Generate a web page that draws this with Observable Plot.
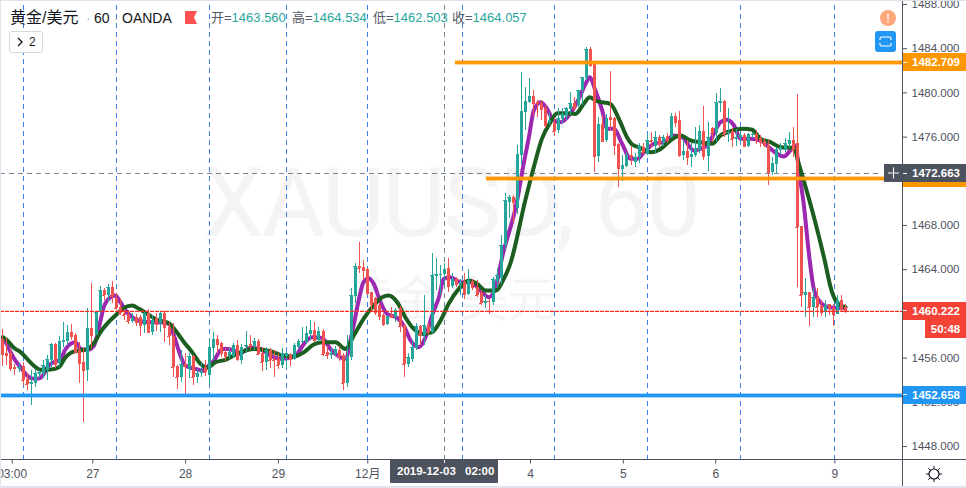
<!DOCTYPE html>
<html><head><meta charset="utf-8">
<script src="https://cdn.jsdelivr.net/npm/d3@7"></script>
<script src="https://cdn.jsdelivr.net/npm/@observablehq/plot@0.6"></script>
<style>
html,body{margin:0;padding:0;background:#fff;}
#wrap{position:relative;width:966px;height:488px;overflow:hidden;font-family:"Liberation Sans","Noto Sans CJK SC",sans-serif;}
#wrap > svg{position:absolute;left:0;top:0;background:transparent;}
#wrap > svg g[aria-label="rule"]{shape-rendering:crispEdges;}
.abs{position:absolute;white-space:nowrap;}
.tag{position:absolute;left:903px;width:63px;height:18px;line-height:18px;color:#fff;font-size:11.5px;font-weight:700;text-align:center;text-indent:3px;}
.tag:before{content:"";position:absolute;left:0;top:8.5px;width:4px;height:1px;background:#fff;}
</style></head><body><div id="wrap"></div>
<script>
const opens=[1457.68,1456.39,1456.39,1455.15,1454.97,1455.24,1454.03,1453.61,1453.73,1454.52,
1454.52,1454.88,1455.78,1457.23,1455.48,1457.41,1457.50,1458.32,1458.05,1456.69,
1455.57,1454.88,1458.68,1458.05,1460.16,1462.12,1461.67,1462.42,1461.37,1460.55,
1460.07,1459.86,1459.34,1459.65,1459.65,1458.95,1460.01,1458.32,1459.56,1459.10,
1460.07,1458.80,1457.99,1455.24,1454.28,1455.42,1454.94,1456.15,1454.28,1454.58,
1455.12,1454.43,1456.84,1457.65,1457.29,1456.51,1456.15,1456.15,1457.14,1455.78,
1456.93,1457.23,1457.05,1457.47,1456.44,1455.63,1456.68,1455.84,1455.84,1455.33,
1456.14,1456.23,1455.84,1456.99,1457.41,1457.41,1458.13,1458.49,1457.59,1458.43,
1456.53,1456.23,1456.32,1456.68,1456.23,1453.67,1456.08,1461.57,1464.29,1464.17,
1463.99,1461.93,1461.36,1460.76,1459.85,1459.04,1459.85,1459.64,1460.46,1458.95,
1455.42,1455.84,1456.83,1458.86,1458.04,1458.95,1458.34,1463.38,1463.44,1463.56,
1464.08,1462.48,1463.08,1462.57,1462.87,1461.75,1462.96,1462.42,1461.81,1460.94,
1461.15,1461.06,1462.96,1463.17,1466.19,1470.11,1470.57,1469.51,1474.33,1478.25,
1479.16,1479.67,1479.16,1479.01,1478.56,1477.29,1477.26,1476.59,1477.59,1477.86,
1478.49,1479.07,1478.86,1480.21,1481.27,1483.93,1482.57,1474.24,1477.14,1475.69,
1477.74,1477.65,1475.30,1473.03,1473.34,1474.33,1473.70,1474.12,1475.03,1474.42,
1475.69,1475.15,1475.93,1475.39,1476.05,1475.93,1477.86,1477.50,1474.33,1474.69,
1474.19,1474.34,1474.79,1476.51,1474.25,1476.75,1476.30,1479.07,1479.22,1476.30,
1476.51,1475.81,1475.85,1476.15,1475.15,1476.12,1476.24,1475.85,1475.63,1475.24,
1472.83,1473.52,1474.79,1474.79,1475.33,1475.69,1475.45,1467.94,1461.66,1461.96,
1460.61,1461.51,1460.67,1460.15,1460.85,1460.45,1459.94,1461.21,1460.55];
const closes=[1456.33,1456.24,1455.03,1455.03,1455.18,1453.97,1453.61,1453.79,1454.64,1454.73,
1455.33,1455.90,1457.23,1455.42,1457.50,1457.59,1458.32,1457.96,1456.54,1455.54,
1454.88,1458.68,1458.05,1460.16,1462.12,1461.67,1462.42,1461.58,1460.52,1460.01,
1459.86,1459.34,1459.59,1459.19,1458.95,1460.01,1458.35,1459.40,1459.04,1460.07,
1458.74,1457.96,1455.18,1454.28,1455.42,1455.24,1456.15,1454.28,1454.64,1454.82,
1454.73,1456.93,1457.65,1457.23,1456.45,1456.15,1456.51,1457.14,1455.84,1456.93,
1457.14,1457.05,1457.53,1456.32,1455.60,1456.68,1455.78,1455.78,1455.33,1456.38,
1456.38,1455.84,1457.14,1457.53,1457.50,1458.25,1458.49,1457.59,1458.43,1456.32,
1456.23,1456.44,1456.74,1456.14,1453.67,1456.08,1461.66,1464.29,1464.08,1463.92,
1461.81,1460.85,1460.15,1459.76,1459.04,1459.76,1459.64,1460.30,1458.86,1455.42,
1456.02,1456.99,1458.86,1458.04,1458.95,1458.34,1463.47,1463.56,1463.56,1464.057,
1462.48,1463.08,1462.66,1462.87,1461.75,1463.02,1462.36,1461.66,1460.91,1461.12,
1461.09,1463.08,1463.47,1466.19,1470.26,1470.57,1470.11,1474.42,1478.31,1479.22,
1479.67,1479.01,1479.01,1478.49,1477.05,1477.50,1476.53,1477.65,1478.04,1478.56,
1479.01,1478.56,1480.21,1481.36,1483.93,1482.48,1474.24,1477.14,1475.63,1477.65,
1477.56,1475.24,1473.12,1473.43,1474.33,1474.12,1474.18,1475.15,1474.63,1475.69,
1475.63,1475.93,1475.33,1475.99,1475.69,1477.86,1477.35,1474.33,1474.69,1474.18,
1474.43,1474.94,1476.51,1474.25,1475.94,1476.30,1479.16,1479.22,1476.24,1476.45,
1475.78,1475.94,1476.15,1475.15,1476.21,1476.21,1475.78,1475.54,1475.24,1472.83,
1473.58,1474.88,1475.03,1475.45,1475.69,1474.79,1467.85,1461.66,1461.96,1460.61,
1461.45,1460.61,1460.15,1460.76,1460.45,1459.94,1461.21,1460.39,1460.222];
const highs=[1458.56,1457.75,1456.84,1455.42,1455.48,1455.63,1454.58,1454.88,1454.88,1454.88,
1455.78,1456.24,1457.35,1457.35,1457.96,1459.25,1458.95,1459.04,1458.20,1457.44,
1456.84,1460.46,1462.72,1460.25,1462.48,1462.27,1462.66,1462.93,1461.82,1461.37,
1460.37,1460.31,1460.01,1459.95,1459.86,1460.16,1460.37,1459.86,1460.01,1460.25,
1460.25,1459.25,1459.10,1455.33,1456.69,1456.39,1456.45,1456.24,1454.94,1455.48,
1455.78,1457.65,1458.35,1458.05,1457.44,1456.84,1456.84,1457.29,1457.59,1457.23,
1458.43,1458.04,1457.74,1457.65,1456.99,1456.93,1456.83,1456.68,1456.38,1456.83,
1456.53,1456.38,1457.29,1457.65,1458.80,1458.86,1459.40,1459.25,1458.80,1458.55,
1457.05,1456.83,1457.05,1457.05,1456.38,1458.04,1462.27,1464.59,1466.49,1464.83,
1464.08,1461.96,1461.51,1460.91,1460.00,1459.85,1460.61,1460.46,1460.67,1459.04,
1456.38,1457.59,1459.10,1458.95,1461.66,1459.10,1465.43,1464.98,1464.38,1464.534,
1464.98,1463.62,1463.32,1463.08,1463.62,1463.99,1463.08,1463.02,1462.11,1461.66,
1461.27,1463.32,1464.08,1467.10,1470.87,1470.72,1470.72,1475.24,1481.81,1480.52,
1481.27,1480.21,1479.31,1479.31,1478.86,1478.25,1477.65,1478.56,1478.56,1478.71,
1480.06,1479.61,1480.21,1481.42,1484.14,1484.14,1482.78,1477.80,1477.95,1478.04,
1481.96,1477.74,1475.39,1474.33,1474.63,1475.15,1474.48,1475.39,1475.39,1476.23,
1476.44,1476.53,1476.14,1476.14,1476.29,1478.10,1478.10,1478.34,1475.69,1475.69,
1475.54,1476.90,1477.05,1478.77,1477.35,1476.90,1479.92,1480.37,1479.31,1478.62,
1476.75,1476.66,1476.45,1476.30,1476.30,1476.45,1476.60,1476.15,1475.85,1475.69,
1474.13,1475.09,1475.39,1475.85,1476.45,1476.90,1479.86,1467.94,1463.17,1461.96,
1462.26,1462.26,1461.21,1461.21,1460.85,1460.85,1461.66,1461.66,1460.85];
const lows=[1455.24,1455.33,1454.82,1454.43,1454.73,1453.52,1453.07,1451.71,1453.31,1454.12,
1454.12,1453.97,1455.18,1455.03,1455.18,1456.93,1457.14,1457.59,1456.39,1453.73,
1450.20,1453.88,1456.84,1458.05,1460.01,1461.21,1461.06,1460.97,1460.31,1459.86,
1459.40,1459.04,1459.10,1458.86,1457.96,1458.20,1458.20,1458.05,1458.41,1458.35,
1457.44,1457.14,1454.28,1453.16,1453.82,1452.62,1454.12,1453.52,1453.67,1454.28,
1454.34,1453.67,1455.78,1456.39,1456.09,1455.72,1455.84,1455.93,1455.72,1455.42,
1456.44,1456.68,1456.68,1456.23,1454.81,1454.87,1455.02,1454.27,1454.93,1455.02,
1455.02,1455.24,1455.78,1456.83,1457.29,1457.23,1457.59,1457.44,1457.44,1456.14,
1455.84,1455.84,1456.14,1455.72,1453.06,1453.37,1455.78,1460.91,1463.62,1463.02,
1461.66,1460.15,1459.85,1459.40,1458.86,1458.95,1459.55,1459.25,1458.34,1454.21,
1455.12,1455.63,1456.68,1457.14,1457.14,1458.04,1458.19,1462.11,1461.66,1462.503,
1461.96,1462.27,1462.42,1461.66,1461.27,1461.66,1462.11,1461.51,1460.76,1460.46,
1459.94,1460.76,1462.27,1462.70,1465.74,1468.61,1468.30,1469.00,1473.43,1476.59,
1479.01,1477.95,1477.80,1477.50,1476.74,1477.05,1476.05,1476.29,1477.20,1477.50,
1477.95,1478.40,1478.71,1478.86,1481.12,1482.33,1472.82,1473.73,1475.54,1475.54,
1476.59,1474.33,1471.47,1472.01,1473.28,1473.43,1473.22,1473.58,1474.33,1474.33,
1475.09,1474.48,1475.09,1475.15,1475.39,1475.84,1476.90,1474.12,1473.88,1473.43,
1473.28,1474.19,1474.55,1473.88,1472.92,1475.54,1475.54,1478.26,1476.00,1475.54,
1475.09,1475.15,1475.54,1475.03,1475.09,1475.85,1475.33,1475.09,1475.03,1471.62,
1472.53,1472.68,1474.34,1474.64,1474.94,1474.19,1462.42,1460.61,1459.70,1458.89,
1459.70,1459.70,1459.76,1459.70,1459.85,1458.86,1459.94,1460.15,1460.06];

const purpleBar=[0,0.7,1.9,3.1,4.4,5.6,6.8,8.1,9.3,10.1,11.3,12.6,14.2,15.5,17.9,19.2,21,22.5,24.1,24.9,26.6,27.8,29,30.3,31.9,34,36.4,38.9,41,42.2,43.4,44.7,45.9,47.5,49.2,50.4,52.1,53.7,54.9,57,58.2,61.1,63.6,66,68.5,71,72.6,74.3,76.3,78.8,80.8,83.3,84.5,86.2,87.8,89,90.3,91.5,93.2,94.8,97.3,98.9,100.6,102.6,104.3,105.9,107.6,108.8,110.4,112.9,115.4,117.9,119.9,121.6,123.2,126.9,128.5,129.8,131,132.7,134.3,135.9,137.6,140,142.1,143.8,144.8,146.2,147.9,149.1,150.7,152.8,154.9,156.5,158.6,160.6,163.1,165.6,167.6,170.5,172.1,174.2,175.4,177.1,178.7,180.4,182,184.5,187.3,189,191,192.7,194.3,195.6,196.4,197.6,198.9,200.1,201.7,203.8,205.8,207.9];
const purpleVal=[1457.74,1457.44,1456.54,1455.78,1455.18,1454.58,1454.21,1454.12,1454.21,1454.58,1455.33,1455.63,1455.84,1456.84,1457.44,1456.84,1456.75,1457.14,1459.40,1460.61,1461.52,1461.67,1461.06,1460.31,1459.71,1459.34,1459.25,1459.25,1459.10,1458.05,1456.69,1455.48,1455.18,1455.03,1454.88,1455.18,1455.78,1456.69,1456.84,1456.69,1456.39,1456.93,1456.83,1456.23,1455.93,1456.02,1456.38,1457.29,1457.89,1457.83,1456.83,1456.08,1455.93,1458.34,1461.21,1462.87,1463.23,1462.72,1461.06,1460.00,1459.64,1458.95,1457.59,1456.99,1457.89,1459.85,1461.51,1463.17,1463.32,1462.87,1462.87,1462.11,1461.51,1462.42,1465.13,1470.26,1473.58,1475.99,1478.40,1479.16,1478.55,1477.50,1477.35,1478.10,1479.46,1480.82,1481.42,1480.21,1478.40,1476.75,1476.75,1475.39,1474.03,1474.03,1474.78,1475.39,1475.54,1476.14,1475.99,1474.79,1474.94,1475.39,1476.30,1477.35,1477.56,1477.05,1475.85,1475.85,1475.63,1475.09,1474.49,1474.25,1474.79,1475.24,1473.00,1469.96,1465.43,1462.26,1461.06,1460.60,1460.54,1460.54];
const greenBar=[0,1.1,2.7,4.4,6,7.6,9.3,11.8,13.8,15.5,17.1,19.2,21,22.9,24.1,25.7,27.8,29.9,31.9,33.6,35.6,38.1,41,42.6,44.7,46.7,48.8,50.4,52.5,54.9,57,58.2,61.9,66,69.3,71.8,74.3,76.7,78.8,82.1,84.5,86.6,89,91.5,93.6,95.2,97.3,99.3,101.4,103.9,105.9,108,110,112.5,115,117,119.1,121.6,123.6,125.2,128.9,131,133,135.1,136.8,138.8,141.3,143.3,144.8,146.6,149.9,152,154,155.3,157.3,159.8,162.3,164.7,167.2,169.7,172.1,175,177.1,179.5,182.8,184.9,186.9,189.4,191.9,195.2,196.4,199.7,202.6,204.6,205.8,207.9];
const greenVal=[1457.90,1457.59,1456.93,1456.54,1455.93,1455.33,1454.94,1454.97,1455.18,1456.09,1456.54,1456.69,1456.84,1457.59,1458.35,1459.10,1459.86,1460.55,1460.76,1460.46,1460.01,1459.46,1459.16,1458.50,1457.44,1456.54,1455.48,1455.12,1455.63,1455.84,1456.24,1456.45,1456.83,1456.62,1456.23,1456.14,1456.53,1457.23,1457.44,1457.44,1456.83,1458.04,1459.55,1460.76,1461.51,1461.66,1461.06,1459.70,1458.64,1458.19,1458.34,1459.40,1460.91,1462.27,1463.02,1462.72,1462.11,1462.11,1463.17,1464.53,1470.26,1473.27,1475.84,1477.35,1478.16,1478.16,1478.10,1479.01,1479.61,1479.25,1479.01,1477.65,1475.99,1475.33,1475.03,1474.63,1474.93,1475.69,1476.14,1475.69,1475.54,1475.39,1476.15,1476.54,1476.75,1476.66,1475.85,1475.54,1475.09,1475.03,1473.58,1469.35,1465.13,1461.96,1461.06,1460.61];

const priceTicks=[1448,1452,1456,1460,1464,1468,1472,1476,1480,1484,1488];
const timeTickBars=[2.31,22.2,45.1,68.0,90.05,130.2,153.1,175.9,205.3];
const timeTickLabels=["03:00","27","28","29","12月","4","5","6","9"];
const sessionBars=[5.17,28.1,51.07,70.06,90.05,113.3,136.2,159.1,182.1,205.3];
const crossBar=109.05, crossPrice=1472.663, lastPrice=1460.222;
const orangeHigh=1482.709, orangeLow=1472.23, blueLevel=1452.658;
const orangeHighFrom=111.6, orangeLowFrom=119.3;

const xDomain=[-0.575,221.98], yDomain=[1446.778,1488.362];
const barHalf=0.37;
const candles=opens.map((o,i)=>({i,o,h:highs[i],l:lows[i],c:closes[i]}));
const up=candles.filter(d=>d.c>=d.o), down=candles.filter(d=>d.c<d.o);
const UP="#26a69a", DOWN="#ef5350";
const purple=purpleBar.map((x,i)=>({x,y:purpleVal[i]}));
const green=greenBar.map((x,i)=>({x,y:greenVal[i]}));
const tickName=new Map(timeTickBars.map((b,i)=>[b,timeTickLabels[i]]));
const lastLine=xDomain.map(x=>({x,y:lastPrice}));

function candleMarks(data,color){return [
  Plot.ruleX(data,{x:"i",y1:"l",y2:"h",stroke:color,strokeWidth:1}),
  Plot.ruleX(data,{x:"i",y1:"o",y2:"c",stroke:color,strokeWidth:3}),
  Plot.ruleY(data,{y:"c",x1:d=>d.i-barHalf,x2:d=>d.i+barHalf,stroke:color,strokeWidth:1})
];}
function level(v,from,color){return [
  Plot.ruleY([v],{x1:from,x2:xDomain[1],stroke:color,strokeWidth:5,strokeOpacity:.4}),
  Plot.ruleY([v],{x1:from,x2:xDomain[1],stroke:color,strokeWidth:3})
];}

const chart=Plot.plot({
  width:966,height:488,marginLeft:0,marginRight:64,marginTop:0,marginBottom:28.5,
  x:{domain:xDomain},y:{domain:yDomain},
  style:{background:"transparent",overflow:"visible"},
  marks:[
    Plot.ruleX(sessionBars,{y1:yDomain[0],y2:yDomain[1],stroke:"#3f7fe8",strokeWidth:1,strokeDasharray:"5,4"}),
    Plot.ruleX([crossBar],{y1:yDomain[0],y2:yDomain[1],stroke:"#758696",strokeWidth:1,strokeDasharray:"5,4"}),
    Plot.ruleY([crossPrice],{x1:xDomain[0],x2:217,stroke:"#758696",strokeWidth:1,strokeDasharray:"5,4"}),
    Plot.line(purple,{x:"x",y:"y",stroke:"#9c27b0",strokeWidth:4,curve:"monotone-x"}),
    Plot.line(green,{x:"x",y:"y",stroke:"#1b5e20",strokeWidth:4,curve:"monotone-x"}),
    ...candleMarks(up,UP),...candleMarks(down,DOWN),
    Plot.line(lastLine,{x:"x",y:"y",stroke:"#ff2a1f",strokeWidth:1.2,strokeDasharray:"3,2"}),
    ...level(orangeHigh,orangeHighFrom,"#ff9800"),
    ...level(orangeLow,orangeLowFrom,"#ff9800"),
    ...level(blueLevel,xDomain[0],"#2196f3"),
    Plot.axisY(priceTicks,{anchor:"right",label:null,tickSize:4,tickPadding:5,stroke:"#50535e",fill:"#50535e",fontSize:11.5,fontFamily:"Liberation Sans",tickFormat:d=>d.toFixed(3)}),
    Plot.axisX(timeTickBars,{anchor:"bottom",label:null,tickSize:4,tickPadding:5,stroke:"#50535e",fill:"#50535e",fontSize:12,fontFamily:"Liberation Sans, Noto Sans CJK SC",tickFormat:d=>tickName.get(d)})
  ]
});
const wrap=document.getElementById("wrap");
const yS=v=>chart.scale("y").apply(v);
function add(html){wrap.insertAdjacentHTML("beforeend",html);}

// watermark lies behind the transparent svg
add(`<div class="abs" style="left:0;width:902px;text-align:center;top:148px;font:97px/110px 'Roboto','Liberation Sans';color:#f4f4f5;letter-spacing:-2.2px">XAUUSD, 60</div>`);
add(`<div class="abs" style="left:345px;top:262px;font:48px/66px 'Noto Sans CJK SC';color:#f5f5f6">黄金/美元</div>`);
wrap.appendChild(chart);

// axis lines
add(`<div class="abs" style="left:0;top:459px;width:966px;height:1px;background:#50535e"></div>`);
add(`<div class="abs" style="left:902px;top:0;width:1px;height:486px;background:#50535e"></div>`);

// price tags
function tag(v,bg,txt){add(`<div class="tag" style="top:${yS(v)-9}px;background:${bg}">${txt}</div>`);}
tag(orangeHigh,"#ff9800","1482.709");
tag(orangeLow,"#ff9800","");
tag(blueLevel,"#2196f3","1452.658");
tag(lastPrice,"#f44336","1460.222");
tag(crossPrice,"#4c525e","1472.663");
add(`<div class="abs" style="left:925px;top:320px;width:41px;height:18px;line-height:18px;background:#f44336;color:#fff;font-size:11.5px;font-weight:700;text-align:center">50:48</div>`);
add(`<div class="abs" style="left:884px;top:${yS(crossPrice)-9}px;width:19px;height:18px;background:#4c525e"><svg width="19" height="18"><path d="M4 9h11M9.500 3.500v11" stroke="#fff" stroke-width="1"/></svg></div>`);
// crosshair date tag
add(`<div class="abs" style="left:390px;top:460px;width:108px;height:23px;line-height:22px;background:#4c525e;color:#fff;font-size:11.5px;font-weight:700;border-radius:0 0 1px 1px"><span class="abs" style="left:7px">2019-12-03</span><span class="abs" style="left:75px">02:00</span><span class="abs" style="left:54px;top:0;width:1px;height:3px;background:#fff"></span></div>`);

// legend
const ink="#131722",gray="#555a66",val="#26a69a";
add(`<div class="abs" style="left:10px;top:8px;font-size:16px;line-height:20px;color:${ink}">黄金/美元</div>`);
add(`<div class="abs" style="left:86px;top:8px;font-size:14px;line-height:20px;color:#b2b5be">·</div>`);
add(`<div class="abs" style="left:94px;top:8px;font-size:14px;line-height:20px;color:${ink}">60</div>`);
add(`<div class="abs" style="left:114px;top:8px;font-size:14px;line-height:20px;color:#b2b5be">·</div>`);
add(`<div class="abs" style="left:122px;top:8px;font-size:14px;line-height:20px;color:${ink}">OANDA</div>`);
add(`<svg class="abs" style="left:185px;top:11px" width="13" height="13"><path d="M0 0H12L9 6.500 12 13H0Z" fill="#ff5252"/></svg>`);
[["开","1463.560",211],["高","1464.534",292],["低","1462.503",373],["收","1464.057",452]].forEach(([k,v,x])=>{
  add(`<div class="abs" style="left:${x}px;top:9px;font-size:13px;line-height:18px;color:${gray}">${k}=<span style="color:${val}">${v}</span></div>`);
});
add(`<div class="abs" style="left:9px;top:31px;width:32px;height:20px;border:1px solid #d6d8e0;border-radius:3px;background:#fff;color:${ink};font-size:12px;line-height:20px"><svg class="abs" style="left:7px;top:5px" width="6" height="10"><path d="M1 1l4 4-4 4" fill="none" stroke="${ink}" stroke-width="1.4"/></svg><span class="abs" style="left:19px">2</span></div>`);

// top-right icons and settings gear
add(`<svg class="abs" style="left:880px;top:10px" width="16" height="16"><circle cx="8" cy="8" r="8" fill="#ffa67c"/><path d="M8 3.500v6M8 11v1.600" stroke="#fff" stroke-width="1.600" opacity=".8"/></svg>`);
add(`<svg class="abs" style="left:875px;top:31px" width="21" height="21"><rect width="21" height="21" rx="3" fill="#2196f3"/><path d="M5 9V7.500Q5 6 6.500 6h8Q16 6 16 7.500V9M5 12v1.500Q5 15 6.500 15h8q1.500 0 1.500-1.500V12" fill="none" stroke="#fff" stroke-width="1.200"/></svg>`);
add(`<svg class="abs" style="left:925px;top:465px" width="18" height="18"><circle cx="9" cy="9" r="5" fill="none" stroke="#131722" stroke-width="1.200"/><path d="M9 1v3M9 14v3M1 9h3M14 9h3M3.300 3.300l2 2M12.700 12.700l2 2M3.300 14.700l2-2M12.700 5.300l2-2" stroke="#131722" stroke-width="1"/></svg>`);

// outer frame on top
add(`<div class="abs" style="left:0;top:0;right:0;bottom:0;border-left:1px solid #e0e3eb;border-top:1px solid #e0e3eb;border-bottom:2px solid #e0e3eb;box-sizing:border-box;pointer-events:none"></div>`);
</script></body></html>
